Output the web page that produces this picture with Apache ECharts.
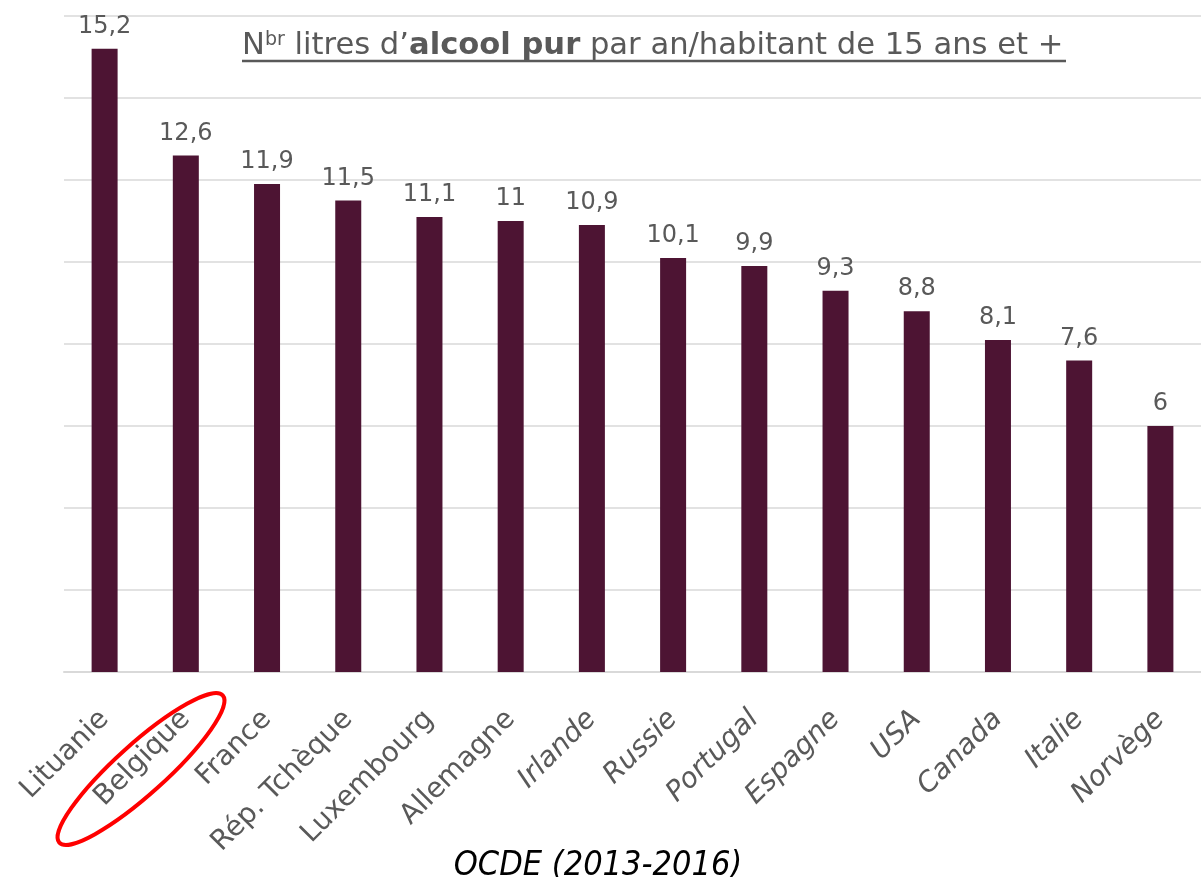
<!DOCTYPE html>
<html>
<head>
<meta charset="utf-8">
<script src="https://cdn.jsdelivr.net/npm/echarts@6/dist/echarts.min.js"></script>
<style>
  html, body { margin: 0; padding: 0; background: #fff; }
  #main { width: 1201px; height: 877px; }
</style>
</head>
<body>
<div id="main"></div>
<script>
// OCDE 2013-2016 : litres d'alcool pur par an et par habitant (15 ans et +)
var countries = ['Lituanie', 'Belgique', 'France', 'Rép. Tchèque', 'Luxembourg', 'Allemagne',
  'Irlande', 'Russie', 'Portugal', 'Espagne', 'USA', 'Canada', 'Italie', 'Norvège'];
var litres = [15.2, 12.6, 11.9, 11.5, 11.1, 11, 10.9, 10.1, 9.9, 9.3, 8.8, 8.1, 7.6, 6];

var font = "'Century Gothic', 'DejaVu Sans', sans-serif";
var grey = '#595959';

var myChart = echarts.init(document.getElementById('main'));
myChart.setOption({
  animation: false,
  title: {
    text: '{n|N}{sup|br}{n| litres d’}{b|alcool pur}{n| par an/habitant de 15 ans et +}',
    left: 237,
    top: 26,
    textStyle: {
      rich: {
        n: { fontFamily: font, fontSize: 30.6, fontWeight: 'normal', color: grey },
        sup: { fontFamily: font, fontSize: 19, fontWeight: 'normal', color: grey, verticalAlign: 'top', padding: [0, 0, 12, 0] },
        b: { fontFamily: font, fontSize: 30.6, fontWeight: 'bold', color: grey }
      }
    }
  },
  grid: { left: 64, right: 0, top: 16, bottom: 205, containLabel: false },
  xAxis: {
    type: 'category',
    data: countries,
    axisLine: { lineStyle: { color: '#d9d9d9', width: 2 } },
    axisTick: { show: false },
    axisLabel: {
      rotate: 45,
      interval: 0,
      margin: 43,
      color: grey,
      fontFamily: font,
      fontSize: 28,
      formatter: function (v) {
        var i = countries.indexOf(v);
        return i >= 6 ? '{it|' + v + '}' : v;
      },
      rich: { it: { fontStyle: 'italic', fontFamily: font, fontSize: 28, color: grey } }
    }
  },
  yAxis: {
    type: 'value',
    min: 0,
    max: 16,
    interval: 2,
    axisLabel: { show: false },
    axisLine: { show: false },
    axisTick: { show: false },
    splitLine: { lineStyle: { color: '#d9d9d9', width: 1.5 } }
  },
  series: [{
    type: 'bar',
    data: litres,
    barWidth: 26,
    itemStyle: { color: '#4d1433' },
    label: {
      show: true,
      position: 'top',
      distance: 10,
      color: grey,
      fontFamily: font,
      fontSize: 24,
      formatter: function (p) { return String(p.value).replace('.', ','); }
    }
  }],
  graphic: [
    {
      type: 'line',
      shape: { x1: 242, y1: 61, x2: 1066, y2: 61 },
      style: { stroke: grey, lineWidth: 2.5 }
    },
    {
      type: 'ellipse',
      x: 141, y: 769,
      rotation: 42 * Math.PI / 180,
      shape: { cx: 0, cy: 0, rx: 110, ry: 25 },
      style: { fill: null, stroke: '#ff0000', lineWidth: 4 }
    },
    {
      type: 'text',
      x: 598, y: 866,
      style: {
        text: 'OCDE (2013-2016)',
        fill: '#000',
        align: 'center',
        verticalAlign: 'middle',
        font: "italic 34px 'Liberation Sans Narrow', 'DejaVu Sans Condensed', sans-serif"
      }
    }
  ]
});
</script>
</body>
</html>
